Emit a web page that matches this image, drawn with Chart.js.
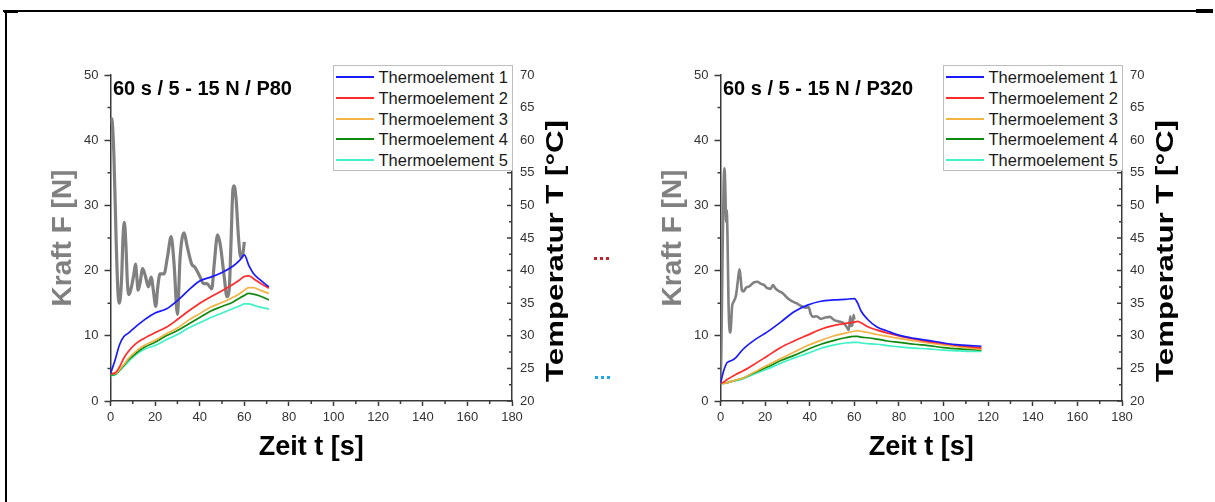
<!DOCTYPE html>
<html>
<head>
<meta charset="utf-8">
<title>Kraft und Temperatur – 60 s / 5 - 15 N</title>
<script src="https://cdn.jsdelivr.net/npm/chart.js@4.4.0/dist/chart.umd.min.js"></script>
<style>
  html, body { margin: 0; padding: 0; background: #fff; }
  #page { position: relative; width: 1215px; height: 502px; overflow: hidden;
          font-family: 'Liberation Sans', Arial, Helvetica, sans-serif; }
  canvas { position: absolute; top: 0; }
  #cvP80 { left: 0; }
  #cvP320 { left: 610px; }
  .legend { position: absolute; background: #fff; border: 1px solid #bdbdbd; box-sizing: border-box; }
  .legend .row { position: absolute; left: 0; right: 0; height: 20px; }
  .legend .swatch { position: absolute; left: 2px; top: 9px; width: 38px; height: 2px; }
  .legend .txt { position: absolute; left: 45px; top: 0; font-size: 16.5px; line-height: 20px;
                 color: #1a1a1a; white-space: nowrap; }
  .rule { position: absolute; background: #000; }
  .dots { position: absolute; height: 3px; }
</style>
</head>
<body>
<div id="page">
  <canvas id="cvP80" width="607" height="502"></canvas>
  <canvas id="cvP320" width="605" height="502"></canvas>

  <!-- page frame -->
  <div class="rule" style="left:3px;top:10px;width:1194px;height:2px;"></div>
  <div class="rule" style="left:4px;top:10px;width:14px;height:3px;"></div>
  <div class="rule" style="left:1196px;top:9px;width:17px;height:4px;"></div>
  <div class="rule" style="left:5px;top:10px;width:2px;height:492px;"></div>

  <!-- small dotted connectors between the panels -->
  <div class="dots" style="left:594px;top:257px;width:16px;background:repeating-linear-gradient(90deg,#c4202a 0 3px,transparent 3px 6px);"></div>
  <div class="dots" style="left:595px;top:376px;width:17px;background:repeating-linear-gradient(90deg,#19a9ea 0 3px,transparent 3px 6px);"></div>
</div>

<script>
// ---------------------------------------------------------------
// Measured data
// ---------------------------------------------------------------
const thermoLabels = ['Thermoelement 1', 'Thermoelement 2', 'Thermoelement 3', 'Thermoelement 4', 'Thermoelement 5'];
const timeTicks = [0, 20, 40, 60, 80, 100, 120, 140, 160, 180];
const forceTicks = [0, 10, 20, 30, 40, 50];
const tempTicks = [20, 25, 30, 35, 40, 45, 50, 55, 60, 65, 70];

// P80: force [N] over time [s]
const p80ForceTime = [0, 0.5, 1.5, 2.5, 3.3, 4.0, 5.0, 5.6, 6.2, 6.9, 7.6, 8.3, 9.4, 10.5, 11.2, 11.8, 12.4, 13.2,
  14.4, 15.6, 17.0, 18.2, 19.2, 20.3, 21.2, 22.2, 24.0, 25.5, 27.2, 28.5, 30.0, 31.2, 33.0, 34.2, 36.4, 37.9,
  40.2, 41.7, 43.2, 45.4, 46.5, 48.0, 49.2, 51.0, 52.2, 53.2, 54.0, 54.9, 55.4, 56.3, 57.4, 58.4, 59.3, 60.0];
const p80Force = [42.5, 43.3, 38, 25, 17, 15.0, 19, 25, 27.4, 24, 18, 16.3, 17.5, 19.5, 21, 19, 17, 18,
  20.3, 19.2, 17.5, 19, 17, 14.5, 17.5, 19.5, 19.5, 22, 25.2, 21, 13.3, 22, 25.8, 24, 21, 20.5,
  19, 18, 18, 17.2, 21, 25.5, 24, 19, 16, 17, 24, 32.5, 33, 31, 25, 22, 22.5, 24.4];

// P80: thermocouple temperatures [°C]
const p80TempTime = [0, 2, 4, 6, 8, 11, 15, 20, 25, 30, 35, 40, 45, 50, 55, 58, 60, 62, 64, 67, 71];
const p80T1 = [24.2, 26.2, 28.6, 29.9, 30.4, 31.3, 32.4, 33.5, 34.1, 35.4, 37.0, 38.4, 39.0, 39.7, 40.7, 41.6, 42.4, 40.8, 39.6, 38.6, 37.5];
const p80T2 = [24.2, 24.3, 25.2, 26.6, 27.6, 28.7, 29.6, 30.5, 31.3, 32.5, 33.8, 35.0, 36.0, 36.9, 37.9, 38.6, 39.1, 39.2, 38.8, 38.1, 37.3];
const p80T3 = [24.2, 24.2, 24.8, 25.6, 26.5, 27.5, 28.5, 29.3, 30.3, 31.2, 32.4, 33.4, 34.4, 35.1, 35.9, 36.5, 37.0, 37.4, 37.4, 37.0, 36.5];
const p80T4 = [24.0, 24.1, 24.7, 25.5, 26.3, 27.2, 28.2, 29.0, 30.0, 30.8, 31.8, 32.8, 33.8, 34.5, 35.2, 35.8, 36.2, 36.5, 36.4, 36.1, 35.5];
const p80T5 = [23.9, 24.0, 24.6, 25.3, 26.0, 27.0, 27.9, 28.5, 29.4, 30.2, 31.2, 32.0, 32.8, 33.5, 34.2, 34.6, 34.9, 34.9, 34.7, 34.4, 34.1];

// P320: force [N] over time [s]
const p320ForceTime = [0, 0.4, 0.9, 1.4, 1.8, 2.2, 2.5, 2.8, 3.1, 3.6, 4.2, 4.6, 5.2, 6.0, 7.0, 7.8, 8.5, 9.0,
  9.6, 10.3, 11.5, 13, 15, 16.5, 18, 19.5, 21, 22.5, 23.5, 24.5, 26, 28, 30, 32, 34, 36, 38, 39.5, 40.5, 41.5,
  43, 45, 47, 49, 51, 53, 55, 56.5, 57.5, 58.2, 58.7, 59.3, 59.7, 60];
const p320Force = [2.7, 8, 22, 33, 35.7, 32, 27.5, 29.3, 26, 15, 10.5, 11, 14.5, 15.3, 16.3, 18.5, 20.2, 19,
  17, 16.8, 17.4, 17.6, 18.2, 18.3, 18.0, 17.8, 17.3, 17.2, 17.8, 17.3, 16.9, 16.5, 15.8, 15.3, 15.0, 14.6, 14.3, 14.4, 13.3, 12.9,
  13.0, 12.6, 12.8, 12.9, 12.4, 12.2, 12.0, 11.4, 10.9, 13.0, 11.5, 12.0, 13.2, 12.5];

// P320: thermocouple temperatures [°C]
const p320TempTime = [0, 1.5, 3, 5, 7, 10, 15, 21, 27, 33, 39, 45, 51, 56, 60, 61.5, 63, 66, 70, 75, 80, 87, 93, 100, 107, 112, 117];
const p320T1 = [22.7, 24.7, 25.9, 26.2, 26.7, 27.9, 29.3, 30.6, 32.1, 33.7, 34.7, 35.3, 35.5, 35.6, 35.7, 35.0, 33.8, 32.5, 31.4, 30.7, 30.1, 29.6, 29.3, 28.9, 28.6, 28.5, 28.4];
const p320T2 = [22.7, 22.9, 23.3, 23.7, 24.1, 24.6, 25.6, 26.9, 28.2, 29.2, 30.1, 31.0, 31.6, 31.9, 32.1, 32.2, 32.0, 31.4, 30.9, 30.4, 30.0, 29.5, 29.1, 28.8, 28.5, 28.3, 28.1];
const p320T3 = [22.7, 22.7, 22.8, 23.0, 23.2, 23.5, 24.4, 25.5, 26.5, 27.5, 28.5, 29.3, 30.0, 30.4, 30.7, 30.8, 30.7, 30.5, 30.2, 29.9, 29.6, 29.2, 28.9, 28.6, 28.3, 28.1, 27.9];
const p320T4 = [22.7, 22.7, 22.8, 23.0, 23.2, 23.5, 24.3, 25.2, 26.2, 27.0, 27.9, 28.7, 29.3, 29.7, 29.9, 29.9, 29.8, 29.7, 29.5, 29.2, 29.0, 28.7, 28.5, 28.2, 28.0, 27.9, 27.8];
const p320T5 = [22.7, 22.7, 22.8, 23.0, 23.1, 23.4, 24.1, 24.9, 25.8, 26.6, 27.3, 28.1, 28.6, 28.9, 29.0, 29.0, 28.9, 28.8, 28.7, 28.5, 28.3, 28.1, 28.0, 27.8, 27.7, 27.6, 27.6];

// ---------------------------------------------------------------
// Styling and layout
// ---------------------------------------------------------------
const FONT = "'Liberation Sans', Arial, Helvetica, sans-serif";
const AXIS = '#3a3a3a';
const TICK_TEXT = '#333333';
const FORCE_COLOR = '#808080';
const THERMO_COLORS = ['#1a1aff', '#ff2a2a', '#f2b344', '#0f8a0f', '#3ff2c6'];
const TEMP_TITLE = 'Temperatur T [°C]';
const CANVAS_H = 502;
const AREA = { left: 110.5, right: 512, top: 75, bottom: 401 };

Chart.defaults.font.family = FONT;
Chart.defaults.color = TICK_TEXT;

function points(xs, ys) { return xs.map((x, i) => ({ x, y: ys[i] })); }

// minor tick marks, inward ticks of the temperature axis, panel caption, rotated temperature title
const panelDecor = {
  id: 'panelDecor',
  afterDraw(chart, args, opts) {
    const { ctx, chartArea, scales } = chart;
    const x = scales.x, yF = scales.yF, yT = scales.yT;
    ctx.save();
    ctx.strokeStyle = AXIS;
    ctx.lineWidth = 1.5;
    ctx.beginPath();
    for (let i = 0; i < timeTicks.length - 1; i++) {
      const px = x.getPixelForValue((timeTicks[i] + timeTicks[i + 1]) / 2);
      ctx.moveTo(px, x.top); ctx.lineTo(px, x.top + 3);
    }
    for (let i = 0; i < forceTicks.length - 1; i++) {
      const py = yF.getPixelForValue((forceTicks[i] + forceTicks[i + 1]) / 2);
      ctx.moveTo(yF.right, py); ctx.lineTo(yF.right - 3, py);
    }
    for (let i = 0; i < tempTicks.length; i++) {
      const py = yT.getPixelForValue(tempTicks[i]);
      ctx.moveTo(yT.left, py); ctx.lineTo(yT.left - 5, py);
      if (i < tempTicks.length - 1) {
        const pm = yT.getPixelForValue((tempTicks[i] + tempTicks[i + 1]) / 2);
        ctx.moveTo(yT.left, pm); ctx.lineTo(yT.left - 3, pm);
      }
    }
    ctx.stroke();

    ctx.fillStyle = '#000';
    ctx.font = `bold 20px ${FONT}`;
    ctx.textAlign = 'left';
    ctx.textBaseline = 'alphabetic';
    ctx.fillText(opts.caption, chartArea.left + 2.5, chartArea.top + 20);

    ctx.translate(yT.left + 44, (yT.top + yT.bottom) / 2 + 13);
    ctx.rotate(-Math.PI / 2);
    ctx.font = `bold 24px ${FONT}`;
    const w = ctx.measureText(TEMP_TITLE).width;
    ctx.scale(262 / w, 1);
    ctx.textAlign = 'center';
    ctx.textBaseline = 'middle';
    ctx.fillText(TEMP_TITLE, 0, 0);
    ctx.restore();
  }
};

function buildLegend(left, top) {
  const box = document.createElement('div');
  box.className = 'legend';
  Object.assign(box.style, { left: left + 'px', top: top + 'px', width: '180px', height: '106px' });
  thermoLabels.forEach((label, i) => {
    const row = document.createElement('div');
    row.className = 'row';
    row.style.top = (1.7 + i * 20.65) + 'px';
    const sw = document.createElement('div');
    sw.className = 'swatch';
    sw.style.background = THERMO_COLORS[i];
    const tx = document.createElement('div');
    tx.className = 'txt';
    tx.textContent = label;
    row.appendChild(sw); row.appendChild(tx);
    box.appendChild(row);
  });
  document.getElementById('page').appendChild(box);
}

function makePanel(canvasId, caption, forceTime, force, forceWidth, tempTime, temps) {
  const canvas = document.getElementById(canvasId);
  const W = canvas.width;
  const datasets = temps.map((vals, i) => ({
    label: thermoLabels[i],
    data: points(tempTime, vals),
    yAxisID: 'yT',
    borderColor: THERMO_COLORS[i],
    borderWidth: 1.7,
    pointRadius: 0,
    cubicInterpolationMode: 'monotone',
    fill: false
  }));
  datasets.push({
    label: 'Kraft F',
    data: points(forceTime, force),
    yAxisID: 'yF',
    borderColor: FORCE_COLOR,
    borderWidth: forceWidth,
    pointRadius: 0,
    cubicInterpolationMode: 'monotone',
    fill: false
  });

  return new Chart(canvas, {
    type: 'line',
    data: { datasets },
    plugins: [panelDecor],
    options: {
      responsive: false,
      animation: false,
      devicePixelRatio: 1,
      layout: { padding: { top: AREA.top, left: 0, right: 0, bottom: 0 } },
      plugins: {
        legend: { display: false },
        tooltip: { enabled: false },
        panelDecor: { caption }
      },
      scales: {
        x: {
          type: 'linear', position: 'bottom', min: 0, max: 180,
          afterBuildTicks(s) { s.ticks = timeTicks.map(v => ({ value: v })); },
          ticks: { font: { size: 13 }, color: TICK_TEXT, padding: 4, maxRotation: 0, autoSkip: false },
          grid: { drawOnChartArea: false, drawTicks: true, tickLength: 5, tickColor: AXIS, tickWidth: 1.5 },
          border: { display: true, color: AXIS, width: 1.5 },
          title: { display: true, text: 'Zeit t [s]', color: '#000',
                   font: { size: 27, weight: 'bold' }, padding: { top: 0, bottom: 38 } },
          afterFit(s) { s.height = CANVAS_H - AREA.bottom; }
        },
        yF: {
          type: 'linear', position: 'left', min: 0, max: 50,
          afterBuildTicks(s) { s.ticks = forceTicks.map(v => ({ value: v })); },
          ticks: { font: { size: 13 }, color: TICK_TEXT, padding: 6 },
          grid: { drawOnChartArea: false, drawTicks: true, tickLength: 6, tickColor: AXIS, tickWidth: 1.5 },
          border: { display: true, color: AXIS, width: 1.5 },
          title: { display: true, text: 'Kraft F [N]', color: FORCE_COLOR,
                   font: { size: 28, weight: 'bold' }, padding: { top: 46, bottom: 0 } },
          afterFit(s) { s.width = AREA.left; }
        },
        yT: {
          type: 'linear', position: 'right', min: 20, max: 70,
          afterBuildTicks(s) { s.ticks = tempTicks.map(v => ({ value: v })); },
          ticks: { font: { size: 13 }, color: TICK_TEXT, padding: 8 },
          grid: { drawOnChartArea: false, drawTicks: false },
          border: { display: true, color: AXIS, width: 1.5 },
          afterFit(s) { s.width = W - AREA.right; }
        }
      }
    }
  });
}

makePanel('cvP80', '60 s / 5 - 15 N / P80', p80ForceTime, p80Force, 3.2,
          p80TempTime, [p80T1, p80T2, p80T3, p80T4, p80T5]);
makePanel('cvP320', '60 s / 5 - 15 N / P320', p320ForceTime, p320Force, 2.6,
          p320TempTime, [p320T1, p320T2, p320T3, p320T4, p320T5]);

buildLegend(332.5, 64.5);
buildLegend(942.5, 64.5);
</script>
</body>
</html>
